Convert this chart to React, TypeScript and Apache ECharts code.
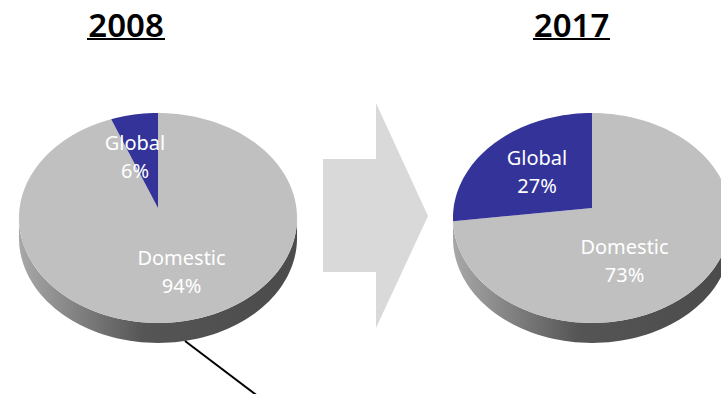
import React, { useEffect, useRef } from "react";
import * as echarts from "echarts";

const years = ["2008", "2017"];
const categories = ["Domestic", "Global"];
const values2008 = [94, 6];
const values2017 = [73, 27];
const sliceColors = ["#c0c0c0", "#333399"];

// layout (positions only)
const pieLayouts = [
  { cx: 158, cy: 208, labels: [[181.5, 271], [135, 156]], titleX: 126, ulX: [87, 165] },
  { cx: 592, cy: 208, labels: [[624.5, 260], [537, 171]], titleX: 571.5, ulX: [533, 610] },
];
const RX = 138.4;
const AY = 104;
const PERSP = 0.0952;
const THICK = 20;

function proj(cx: number, cy: number, theta: number, f: number): number[] {
  const v = -Math.cos(theta) * f;
  const u = Math.sin(theta) * f;
  const w = 1 - PERSP * v;
  return [cx + (RX * u) / w, cy + (AY * v) / w];
}

function makeSeries(values: number[], layout: any) {
  const total = values.reduce((a, b) => a + b, 0);
  const starts: number[] = [];
  let acc = 0;
  values.forEach((v) => {
    starts.push(acc);
    acc += v;
  });
  const data = values.map((v, i) => ({ value: [v, starts[i]], name: categories[i] }));
  return {
    type: "custom",
    coordinateSystem: "none",
    silent: true,
    data,
    renderItem: (params: any, api: any) => {
      const i = params.dataIndex;
      const v = api.value(0);
      const s = api.value(1);
      const a0 = (s / total) * Math.PI * 2;
      const a1 = ((s + v) / total) * Math.PI * 2;
      const { cx, cy } = layout;
      const children: any[] = [];
      if (i === 0) {
        const tR = Math.acos(-PERSP);
        const tL = Math.PI * 2 - tR;
        const top: number[][] = [];
        const n = 80;
        for (let k = 0; k <= n; k++) {
          const t = tR + ((tL - tR) * k) / n;
          top.push(proj(cx, cy, t, 1));
        }
        const bottom = top.map((p) => [p[0], p[1] + THICK]).reverse();
        children.push({
          type: "polygon",
          shape: { points: top.concat(bottom) },
          style: {
            fill: new echarts.graphic.LinearGradient(0, 0, 1, 0, [
              { offset: 0, color: "#a8a8a8" },
              { offset: 0.45, color: "#555555" },
              { offset: 1, color: "#4b4b4b" },
            ]),
          },
        });
      }
      const pts: number[][] = [[cx, cy]];
      const steps = Math.max(4, Math.ceil(((a1 - a0) / (Math.PI * 2)) * 160));
      for (let k = 0; k <= steps; k++) {
        pts.push(proj(cx, cy, a0 + ((a1 - a0) * k) / steps, 1));
      }
      children.push({
        type: "polygon",
        shape: { points: pts },
        style: { fill: sliceColors[i] },
      });
      const pos = layout.labels[i];
      children.push({
        type: "text",
        x: pos[0],
        y: pos[1],
        style: {
          text: categories[i] + "\n" + Math.round((v / total) * 100) + "%",
          fill: "#ffffff",
          font: '20px "Noto Sans"',
          lineHeight: 28,
          align: "center",
          verticalAlign: "middle",
        },
      });
      return { type: "group", children };
    },
  };
}

export default function App() {
  const ref = useRef<HTMLDivElement>(null);
  useEffect(() => {
    if (!ref.current) return;
    const chart = echarts.init(ref.current, undefined, { renderer: "svg" });
    const graphics: any[] = [
      {
        type: "polygon",
        z: 0,
        shape: {
          points: [
            [323, 159],
            [376, 159],
            [376, 103],
            [428, 216],
            [376, 328],
            [376, 272],
            [323, 272],
          ],
        },
        style: { fill: "#d9d9d9" },
      },
      {
        type: "line",
        z: 100,
        shape: { x1: 185, y1: 341, x2: 259, y2: 397 },
        style: { stroke: "#000000", lineWidth: 2 },
      },
    ];
    years.forEach((yr, i) => {
      const L = pieLayouts[i];
      graphics.push({
        type: "text",
        z: 100,
        x: L.titleX,
        y: 24,
        style: {
          text: yr,
          fill: "#000000",
          font: '600 33px "Noto Sans"',
          align: "center",
          verticalAlign: "middle",
        },
      });
      graphics.push({
        type: "line",
        z: 100,
        shape: { x1: L.ulX[0], y1: 39, x2: L.ulX[1], y2: 39 },
        style: { stroke: "#000000", lineWidth: 2.2 },
      });
    });
    chart.setOption({
      animation: false,
      backgroundColor: "#ffffff",
      graphic: graphics,
      series: [makeSeries(values2008, pieLayouts[0]), makeSeries(values2017, pieLayouts[1])],
    });
    return () => chart.dispose();
  }, []);
  return (
    <div
      ref={ref}
      style={{ position: "absolute", left: 0, top: 0, width: 721, height: 394 }}
    />
  );
}
